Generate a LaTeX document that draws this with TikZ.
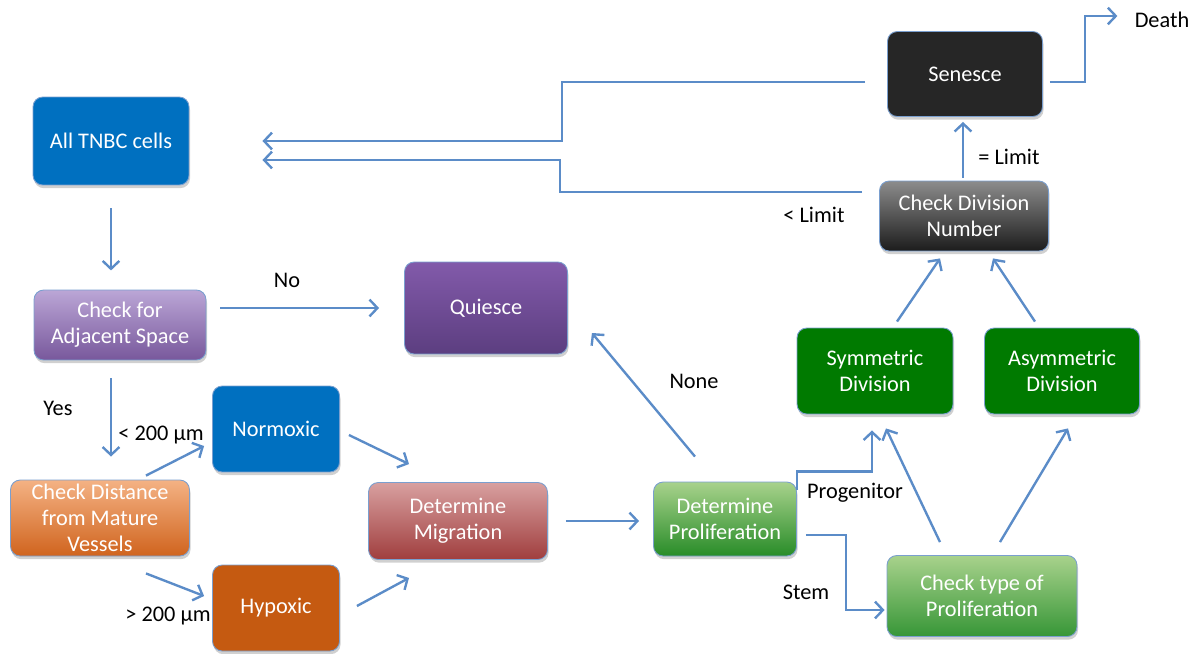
\documentclass[tikz,border=0pt]{standalone}
\usepackage{fontspec}
\setmainfont{Carlito}
\usetikzlibrary{arrows.meta,shadows,calc}
\definecolor{arr}{HTML}{5B8CC8}
\definecolor{boxedge}{HTML}{7A9FCF}
\definecolor{cblue}{HTML}{0070C0}
\definecolor{chyp}{HTML}{C55A11}
\definecolor{cblack}{HTML}{262626}
\definecolor{cgreen}{HTML}{007A00}
\begin{document}
\begin{tikzpicture}[x=0.02cm,y=-0.02cm,
  font=\fontsize{12.7}{14.8}\selectfont,
  box/.style={rounded corners=5.5pt, draw=boxedge, line width=0.5pt, text=white,
    align=center, inner sep=0pt,
    drop shadow={shadow xshift=0.6pt, shadow yshift=-1.8pt, opacity=0.3, fill=black!60}},
  arrow/.style={draw=arr, line width=1.35pt, -{Straight Barb[length=4.5pt,width=9.5pt]}},
  lbl/.style={text=black, inner sep=0pt}]
\useasboundingbox (0,0) rectangle (1194,653);
\fill[white] (0,0) rectangle (1194,653);

% nodes
\node[box, fill=cblue, minimum width=3.12cm, minimum height=1.76cm] (tnbc) at (111,141) {All TNBC cells};
\node[box, top color={rgb,255:red,187;green,166;blue,214}, bottom color={rgb,255:red,120;green,88;blue,156}, minimum width=3.44cm, minimum height=1.4cm] (adj) at (120,325) {Check for\\Adjacent Space};
\node[box, top color={rgb,255:red,130;green,90;blue,170}, bottom color={rgb,255:red,92;green,62;blue,128}, minimum width=3.26cm, minimum height=1.84cm] (qui) at (486,308) {Quiesce};
\node[box, fill=cblue, minimum width=2.54cm, minimum height=1.72cm] (norm) at (276,429) {Normoxic};
\node[box, top color={rgb,255:red,244;green,178;blue,132}, bottom color={rgb,255:red,208;green,100;blue,30}, minimum width=3.58cm, minimum height=1.52cm] (dist) at (100,518) {Check Distance\\from Mature\\Vessels};
\node[box, fill=chyp, minimum width=2.54cm, minimum height=1.72cm] (hyp) at (276,608) {Hypoxic};
\node[box, top color={rgb,255:red,216;green,160;blue,160}, bottom color={rgb,255:red,160;green,62;blue,62}, minimum width=3.58cm, minimum height=1.54cm] (mig) at (458,521) {Determine\\Migration};
\node[box, top color={rgb,255:red,168;green,210;blue,140}, bottom color={rgb,255:red,40;green,140;blue,40}, minimum width=2.86cm, minimum height=1.48cm] (prol) at (725,519) {Determine\\Proliferation};
\node[box, top color={rgb,255:red,168;green,210;blue,140}, bottom color={rgb,255:red,55;green,150;blue,55}, minimum width=3.8cm, minimum height=1.62cm] (ctype) at (982,596) {Check type of\\Proliferation};
\node[box, fill=cgreen, minimum width=3.12cm, minimum height=1.72cm] (sym) at (875,371) {Symmetric\\Division};
\node[box, fill=cgreen, minimum width=3.1cm, minimum height=1.72cm] (asym) at (1062,371) {Asymmetric\\Division};
\node[box, top color={rgb,255:red,140;green,140;blue,140}, bottom color={rgb,255:red,28;green,28;blue,28}, minimum width=3.38cm, minimum height=1.4cm] (cdiv) at (964,216) {Check Division\\Number};
\node[box, fill=cblack, minimum width=3.1cm, minimum height=1.7cm] (sen) at (965,74) {Senesce};
\node[lbl] (death) at (1162,20) {Death};

% labels
\node[lbl] (lno) at (287,280) {No};
\node[lbl] (lyes) at (58,408) {Yes};
\node[lbl] (llt) at (161,435) {< 200 µm};
\node[lbl] (lgt) at (168,616) {> 200 µm};
\node[lbl] (lnone) at (694,381) {None};
\node[lbl] (lprog) at (855,493) {Progenitor};
\node[lbl] (lstem) at (806,592) {Stem};
\node[lbl] (leq) at (1009,157) {= Limit};
\node[lbl] (lless) at (814,215) {< Limit};

% connectors
\draw[arrow] ($(tnbc.south)+(0,23)$) -- ($(tnbc.south)+(0,85)$);
\draw[arrow] ($(adj.east |- qui.west)+(14,0)$) -- ($(qui.west)+(-25,0)$);
\draw[arrow] ($(adj.south)+(-9,18)$) -- ($(dist.north)+(11,-23)$);
\draw[arrow] ($(dist.north)+(46,-4)$) -- ($(norm.west)+(-8,17)$);
\draw[arrow] ($(dist.south)+(46,17)$) -- ($(hyp.west)+(-8,-12)$);
\draw[arrow] ($(norm.east)+(9,6)$) -- ($(mig.north)+(-49,-18)$);
\draw[arrow] ($(hyp.east)+(17,-2)$) -- ($(mig.south)+(-49,18)$);
\draw[arrow] ($(mig.east)+(18,0)$) -- ($(prol.west)+(-14,2)$);
\draw[arrow] ($(prol.north)+(-30,-25)$) -- ($(qui.east)+(24,25)$);
\draw[arrow] ($(prol.north east)+(0,8)$) -- ++(0,-18) -| ($(sym.south)+(-3,16)$);
\draw[arrow] ($(prol.east)+(9,16)$) -- ++(40,0) |- ($(ctype.west)+(-2,14)$);
\draw[arrow] ($(ctype.north)+(-42,-13)$) -- ($(sym.south)+(11,14)$);
\draw[arrow] ($(ctype.north)+(18,-13)$) -- ($(asym.south)+(6,14)$);
\draw[arrow] ($(sym.north)+(22,-6)$) -- ($(cdiv.south)+(-24,7)$);
\draw[arrow] ($(asym.north)+(-27,-6)$) -- ($(cdiv.south)+(29,7)$);
\draw[arrow] ($(cdiv.north)+(-1,-3)$) -- ($(sen.south)+(-2,5)$);
\draw[arrow] ($(cdiv.west)+(-17,-24)$) -- ++(-302,0) |- ($(tnbc.east)+(73,19)$);
\draw[arrow] ($(sen.west)+(-22,8)$) -- ++(-303,0) |- ($(tnbc.east)+(73,0)$);
\draw[arrow] ($(sen.east)+(7,8)$) -- ++(35,0) |- ($(death.west)+(-17,-4)$);
\end{tikzpicture}
\end{document}
